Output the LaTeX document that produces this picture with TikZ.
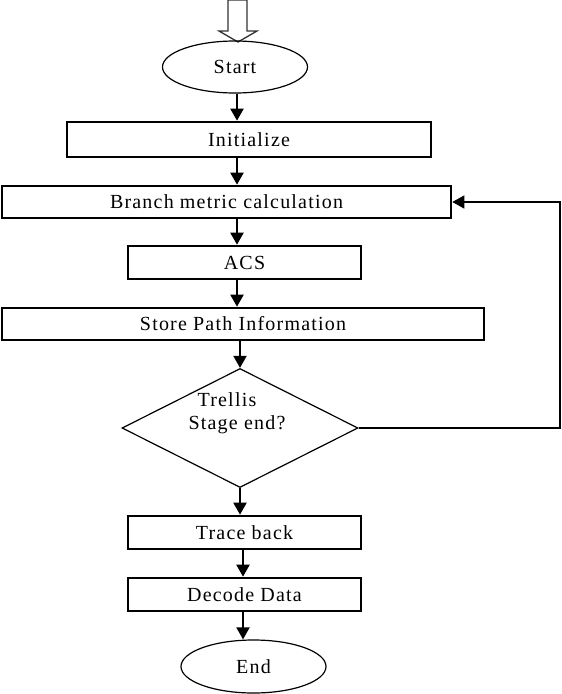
\documentclass[tikz,border=0pt]{standalone}
\usepackage{fontspec}
\setmainfont[LetterSpace=6]{Liberation Serif}
\usetikzlibrary{shapes.geometric,arrows.meta}

\begin{document}
\begin{tikzpicture}[x=1pt,y=-1pt,
    font=\fontsize{20}{23}\selectfont,
    terminal/.style={draw,ellipse,line width=1.2pt,inner sep=0pt},
    process/.style={draw,rectangle,line width=2.6pt,inner sep=0pt},
    decision/.style={draw,diamond,line width=1.2pt,inner sep=0pt},
    flow/.style={line width=2pt,-{Triangle[length=12pt,width=13pt]}},
    loopback/.style={line width=1.3pt,-{Triangle[length=12pt,width=13pt]}}]
    \useasboundingbox (0,0) rectangle (562,694);
    % hollow entry arrow
    \draw[line width=1.3pt,black!80] (228,0)--(247,0)--(247,31)--(257,31)--(238,42)--(219,31)--(228,31)--cycle;
    % nodes
    \node[terminal,minimum width=145pt,minimum height=52pt] (start) at (235,67) {Start};
    \node[process,minimum width=364pt,minimum height=35pt] (init) at (249,139.5) {Initialize};
    \node[process,minimum width=449pt,minimum height=32pt] (branch) at (226.5,202) {Branch metric calculation};
    \node[process,minimum width=233pt,minimum height=33pt] (acs) at (244.5,262.5) {ACS};
    \node[process,minimum width=482pt,minimum height=32pt] (store) at (243,324) {Store Path Information};
    \node[decision,aspect=2,minimum width=236pt,minimum height=119pt] (trellis) at (240,428) {};
    \node[align=left] (trellistext) at (237,413) {\hspace*{9pt}Trellis\\Stage end?};
    \node[process,minimum width=233pt,minimum height=33pt] (trace) at (244.5,532.5) {Trace back};
    \node[process,minimum width=233pt,minimum height=33pt] (decode) at (244.5,594.5) {Decode Data};
    \node[terminal,minimum width=145pt,minimum height=53pt] (end) at (253.5,666.5) {End};
    \coordinate (back) at (560,202);
    \coordinate (inA) at (237,0);
    \coordinate (inB) at (243,0);
    % connectors
    \draw[flow] (start.south -| inA) -- (init.north -| inA);
    \draw[flow] (init.south -| inA) -- (branch.north -| inA);
    \draw[flow] (branch.south -| inA) -- (acs.north -| inA);
    \draw[flow] (acs.south -| inA) -- (store.north -| inA);
    \draw[flow] (store.south -| trellis) -- (trellis.north);
    \draw[flow] (trellis.south) -- (trellis.south |- trace.north);
    \draw[flow] (trace.south -| inB) -- (decode.north -| inB);
    \draw[flow] (decode.south -| inB) -- (end.north -| inB);
    \draw[loopback] (trellis.east) -- (trellis.east -| back) -- (back) -- (branch.east);
\end{tikzpicture}
\end{document}
